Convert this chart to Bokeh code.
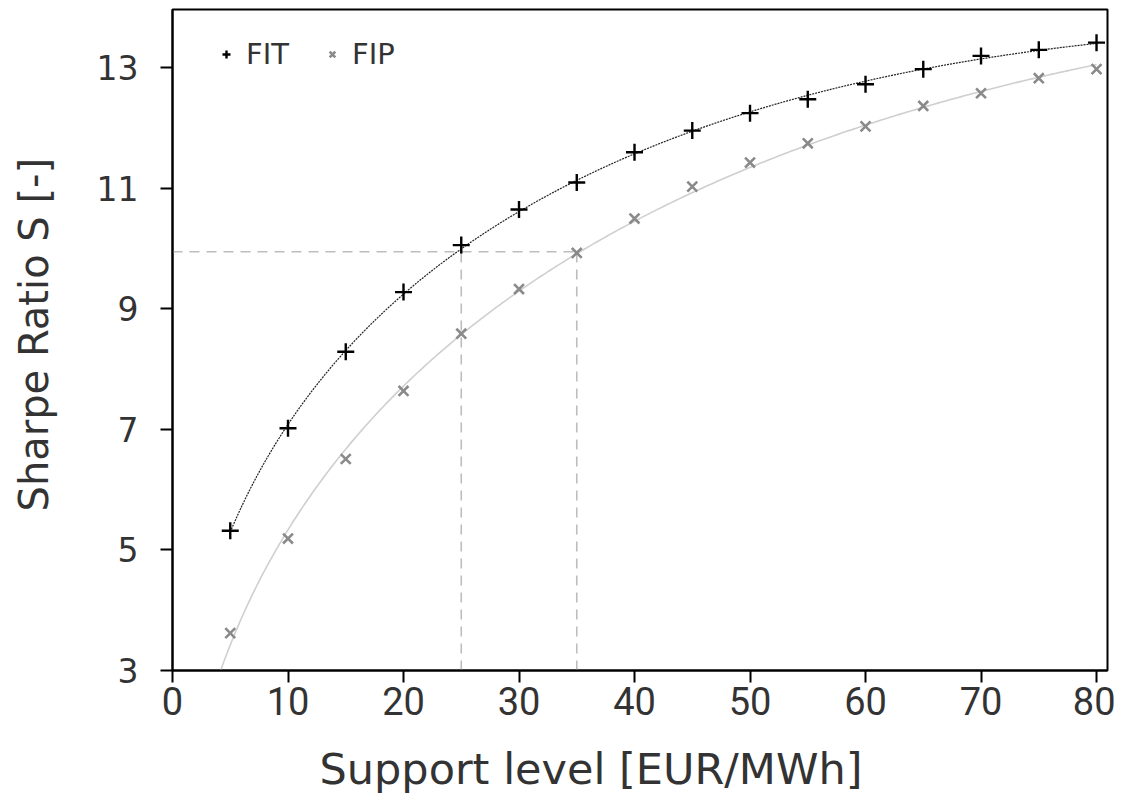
import numpy as np
from bokeh.plotting import figure
from bokeh.models import Range1d, Legend, LegendItem, FixedTicker, Title
from bokeh.embed import file_html
from bokeh.resources import INLINE

# ---- data ----
support = [5, 10, 15, 20, 25, 30, 35, 40, 45, 50, 55, 60, 65, 70, 75, 80]
fit_sharpe = [5.32, 7.02, 8.29, 9.28, 10.06, 10.65, 11.10, 11.60, 11.96, 12.25,
              12.48, 12.73, 12.98, 13.20, 13.30, 13.42]
fip_sharpe = [3.62, 5.19, 6.51, 7.64, 8.59, 9.33, 9.93, 10.50, 11.03, 11.43,
              11.75, 12.03, 12.37, 12.58, 12.83, 12.98]
x_ticks = [0, 10, 20, 30, 40, 50, 60, 70, 80]
y_ticks = [3, 5, 7, 9, 11, 13]
# reference guide lines: target Sharpe ratio and the support levels reaching it
target_s = 9.95
fit_level = 25
fip_level = 35
fit_trend_start = 5.0
fip_trend_start = 3.9

# trend lines: least-squares fit y = a + b*sqrt(x) + c*x to the data above
def trend(xs, ys, x0):
    c = np.polyfit(np.sqrt(xs), ys, 2)
    xx = np.linspace(x0, max(xs), 300)
    return xx, np.polyval(c, np.sqrt(xx))

p = figure(width=1115, height=798, output_backend="svg", toolbar_location=None,
           x_range=Range1d(0, 80.95), y_range=Range1d(3, 13.97),
           min_border_left=172, min_border_right=8, min_border_top=9,
           min_border_bottom=128)
p.background_fill_color = "white"
p.border_fill_color = "white"
p.outline_line_color = "black"
p.outline_line_width = 2
p.xgrid.visible = False
p.ygrid.visible = False

# guides
gcol = "#bdbdbd"
p.line([0, fip_level], [target_s, target_s], line_color=gcol, line_width=1.6, line_dash="10 7")
p.line([fit_level, fit_level], [3, fit_sharpe[support.index(fit_level)]], line_color=gcol,
       line_width=1.6, line_dash="10 7")
p.line([fip_level, fip_level], [3, fip_sharpe[support.index(fip_level)]], line_color=gcol,
       line_width=1.6, line_dash="10 7")

fx, fy = trend(support, fit_sharpe, fit_trend_start)
p.line(fx, fy, line_color="#222222", line_width=1.2, line_dash="2 1")
px_, py_ = trend(support, fip_sharpe, fip_trend_start)
p.line(px_, py_, line_color="#cfcfcf", line_width=1.6)

r_fit = p.scatter(support, fit_sharpe, marker="cross", size=17, line_color="black",
                  line_width=2.4)
r_fip = p.scatter(support, fip_sharpe, marker="x", size=14, line_color="#8a8a8a",
                  line_width=2.6)

legend = Legend(items=[LegendItem(label="FIT", renderers=[r_fit]),
                       LegendItem(label="FIP", renderers=[r_fip])],
                orientation="horizontal", location=(43, 599),
                border_line_color=None, background_fill_alpha=0,
                label_text_font="DejaVu Sans", label_text_font_size="29px",
                label_text_color="#333333", glyph_width=22, label_standoff=9,
                spacing=32, margin=0, padding=8)
p.add_layout(legend)

for ax in (p.xaxis[0], p.yaxis[0]):
    ax.axis_line_width = 2
    ax.axis_line_color = "black"
    ax.major_tick_line_width = 2
    ax.major_tick_line_color = "black"
    ax.major_tick_out = 12
    ax.major_tick_in = 0
    ax.minor_tick_line_color = None
    ax.major_label_text_color = "#333333"

p.xaxis.ticker = FixedTicker(ticks=x_ticks)
p.yaxis.ticker = FixedTicker(ticks=y_ticks)
p.xaxis.major_label_text_font = "Roboto"
p.xaxis.major_label_text_font_size = "38px"
p.xaxis.major_label_standoff = 4
p.yaxis.major_label_text_font = "DejaVu Sans"
p.yaxis.major_label_text_font_size = "33px"
p.yaxis.major_label_standoff = 22

# spacer between tick labels and the x-axis title
p.add_layout(Title(text=" ", text_font_size="7px"), "below")
# x-axis title, placed left of centre as in the reference
xtitle = Title(text="Support level [EUR/MWh]", align="left", offset=147,
               text_font="DejaVu Sans", text_font_size="43px",
               text_font_style="normal", text_color="#333333")
p.add_layout(xtitle, "below")

# y-axis title, shifted up as in the reference
p.add_layout(Title(text=" ", text_font_size="18px"), "left")
ytitle = Title(text="Sharpe Ratio  S  [-]", align="left", offset=159,
               text_font="DejaVu Sans", text_font_size="40px",
               text_font_style="normal", text_color="#333333")
p.add_layout(ytitle, "left")

open("out.html", "w").write(file_html(p, INLINE))
